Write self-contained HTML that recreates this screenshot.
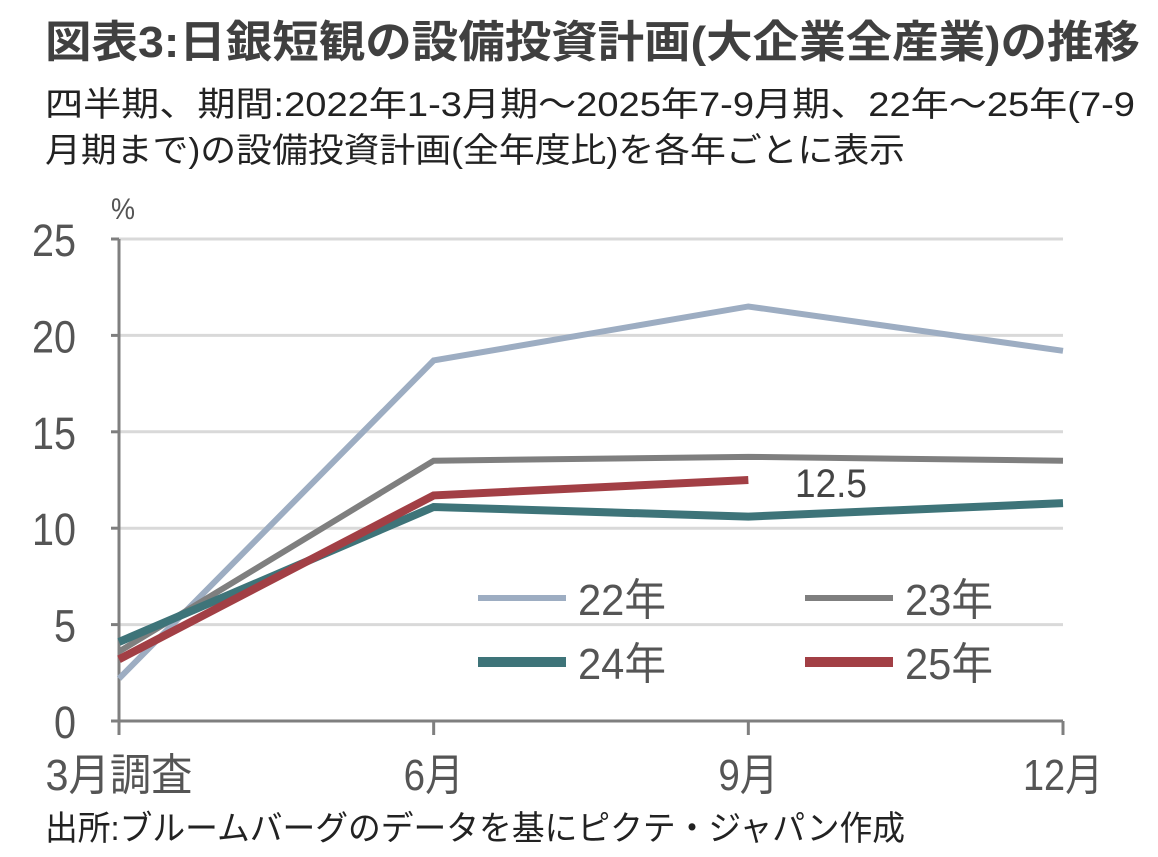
<!DOCTYPE html>
<html><head><meta charset="utf-8"><style>
html,body{margin:0;padding:0;background:#fff;}
svg{display:block;font-family:"Liberation Sans","Noto Sans CJK JP",sans-serif;}
</style></head><body>
<svg id="chart" width="1158" height="857" viewBox="0 0 1158 857">
<text x="45" y="57" font-size="44" font-weight="bold" fill="#404040" textLength="1095" lengthAdjust="spacingAndGlyphs">図表3:日銀短観の設備投資計画(大企業全産業)の推移</text>
<text x="45" y="116" font-size="34" fill="#222" textLength="1090" lengthAdjust="spacingAndGlyphs">四半期、期間:2022年1-3月期～2025年7-9月期、22年～25年(7-9</text>
<text x="45" y="162" font-size="34" fill="#222" textLength="860" lengthAdjust="spacingAndGlyphs">月期まで)の設備投資計画(全年度比)を各年ごとに表示</text>
<text x="111" y="219" font-size="30" fill="#555" textLength="24" lengthAdjust="spacingAndGlyphs">%</text>
<g id="grid"></g><g id="axes"></g><g id="lines"></g><g id="legend"></g>
<text x="45" y="840" font-size="34" fill="#222" textLength="860" lengthAdjust="spacingAndGlyphs">出所:ブルームバーグのデータを基にピクテ・ジャパン作成</text>
</svg>
<script>
const categories=["3月調査","6月","9月","12月"];
const yTicks=[0,5,10,15,20,25];
const seriesNames=["22年","23年","24年","25年"];
const s22=[2.2,18.7,21.5,19.2];
const s23=[3.6,13.5,13.7,13.5];
const s24=[4.1,11.1,10.6,11.3];
const s25=[3.2,11.7,12.5];
const colors=["#9dadc2","#7f7f7f","#3e7479","#a23f45"];
const NS="http://www.w3.org/2000/svg";
const x0=119,x1=1063,y0=721,y1=239;
const xs=i=>x0+(x1-x0)*i/(categories.length-1);
const ys=v=>y0-(y0-y1)*v/25;
function mk(t,a,p){const e=document.createElementNS(NS,t);for(const k in a)e.setAttribute(k,a[k]);p.appendChild(e);return e;}
const grid=document.getElementById('grid'),axes=document.getElementById('axes'),lines=document.getElementById('lines'),legend=document.getElementById('legend');
yTicks.forEach(v=>{
  if(v>0){const g=mk('line',{x1:x0,x2:x1,y1:ys(v),y2:ys(v),stroke:'#d9d9d9','stroke-width':3},grid);
  
  }
  const s=String(v);
  const t=mk('text',{x:76,y:ys(v)+17,'font-size':45,fill:'#555','text-anchor':'end',textLength:s.length*22,lengthAdjust:'spacingAndGlyphs'},axes);
  t.textContent=s;
  
  
  const tk=mk('line',{x1:x0-8,x2:x0,y1:ys(v),y2:ys(v),stroke:'#7f7f7f','stroke-width':3},axes);
  
  
});
const ya=mk('line',{x1:x0,x2:x0,y1:y1,y2:y0,stroke:'#7f7f7f','stroke-width':3},axes);


const xa=mk('line',{x1:x0,x2:x1,y1:y0,y2:y0,stroke:'#7f7f7f','stroke-width':3},axes);


const lw=[147,60,60,80];
categories.forEach((c,i)=>{
  const tk=mk('line',{x1:xs(i),x2:xs(i),y1:y0,y2:y0+14,stroke:'#7f7f7f','stroke-width':3},axes);
  
  
  const t=mk('text',{x:xs(i),y:790,'font-size':44,fill:'#555','text-anchor':'middle',textLength:lw[i],lengthAdjust:'spacingAndGlyphs'},axes);
  t.textContent=c;
  
  
});
[s22,s23,s24,s25].forEach((s,k)=>{
  const p=mk('polyline',{points:s.map((v,i)=>xs(i)+','+ys(v)).join(' '),fill:'none',stroke:colors[k],'stroke-width':k>=2?8:6,'stroke-linejoin':'miter'},lines);
  
  
});
const lab=mk('text',{x:795,y:ys(s25[2])+17,'font-size':40,fill:'#444',textLength:72,lengthAdjust:'spacingAndGlyphs'},lines);
lab.textContent=s25[2].toFixed(1);


const lpos=[[478,598],[805,598],[478,662],[805,662]];
seriesNames.forEach((n,k)=>{
  const [lx,ly]=lpos[k];
  const l=mk('line',{x1:lx,x2:lx+88,y1:ly,y2:ly,stroke:colors[k],'stroke-width':k>=2?10:6},legend);
  
  
  const t=mk('text',{x:lx+100,y:ly+17,'font-size':44,fill:'#555',textLength:88,lengthAdjust:'spacingAndGlyphs'},legend);
  t.textContent=n;
  
  
});
</script>
</body></html>
